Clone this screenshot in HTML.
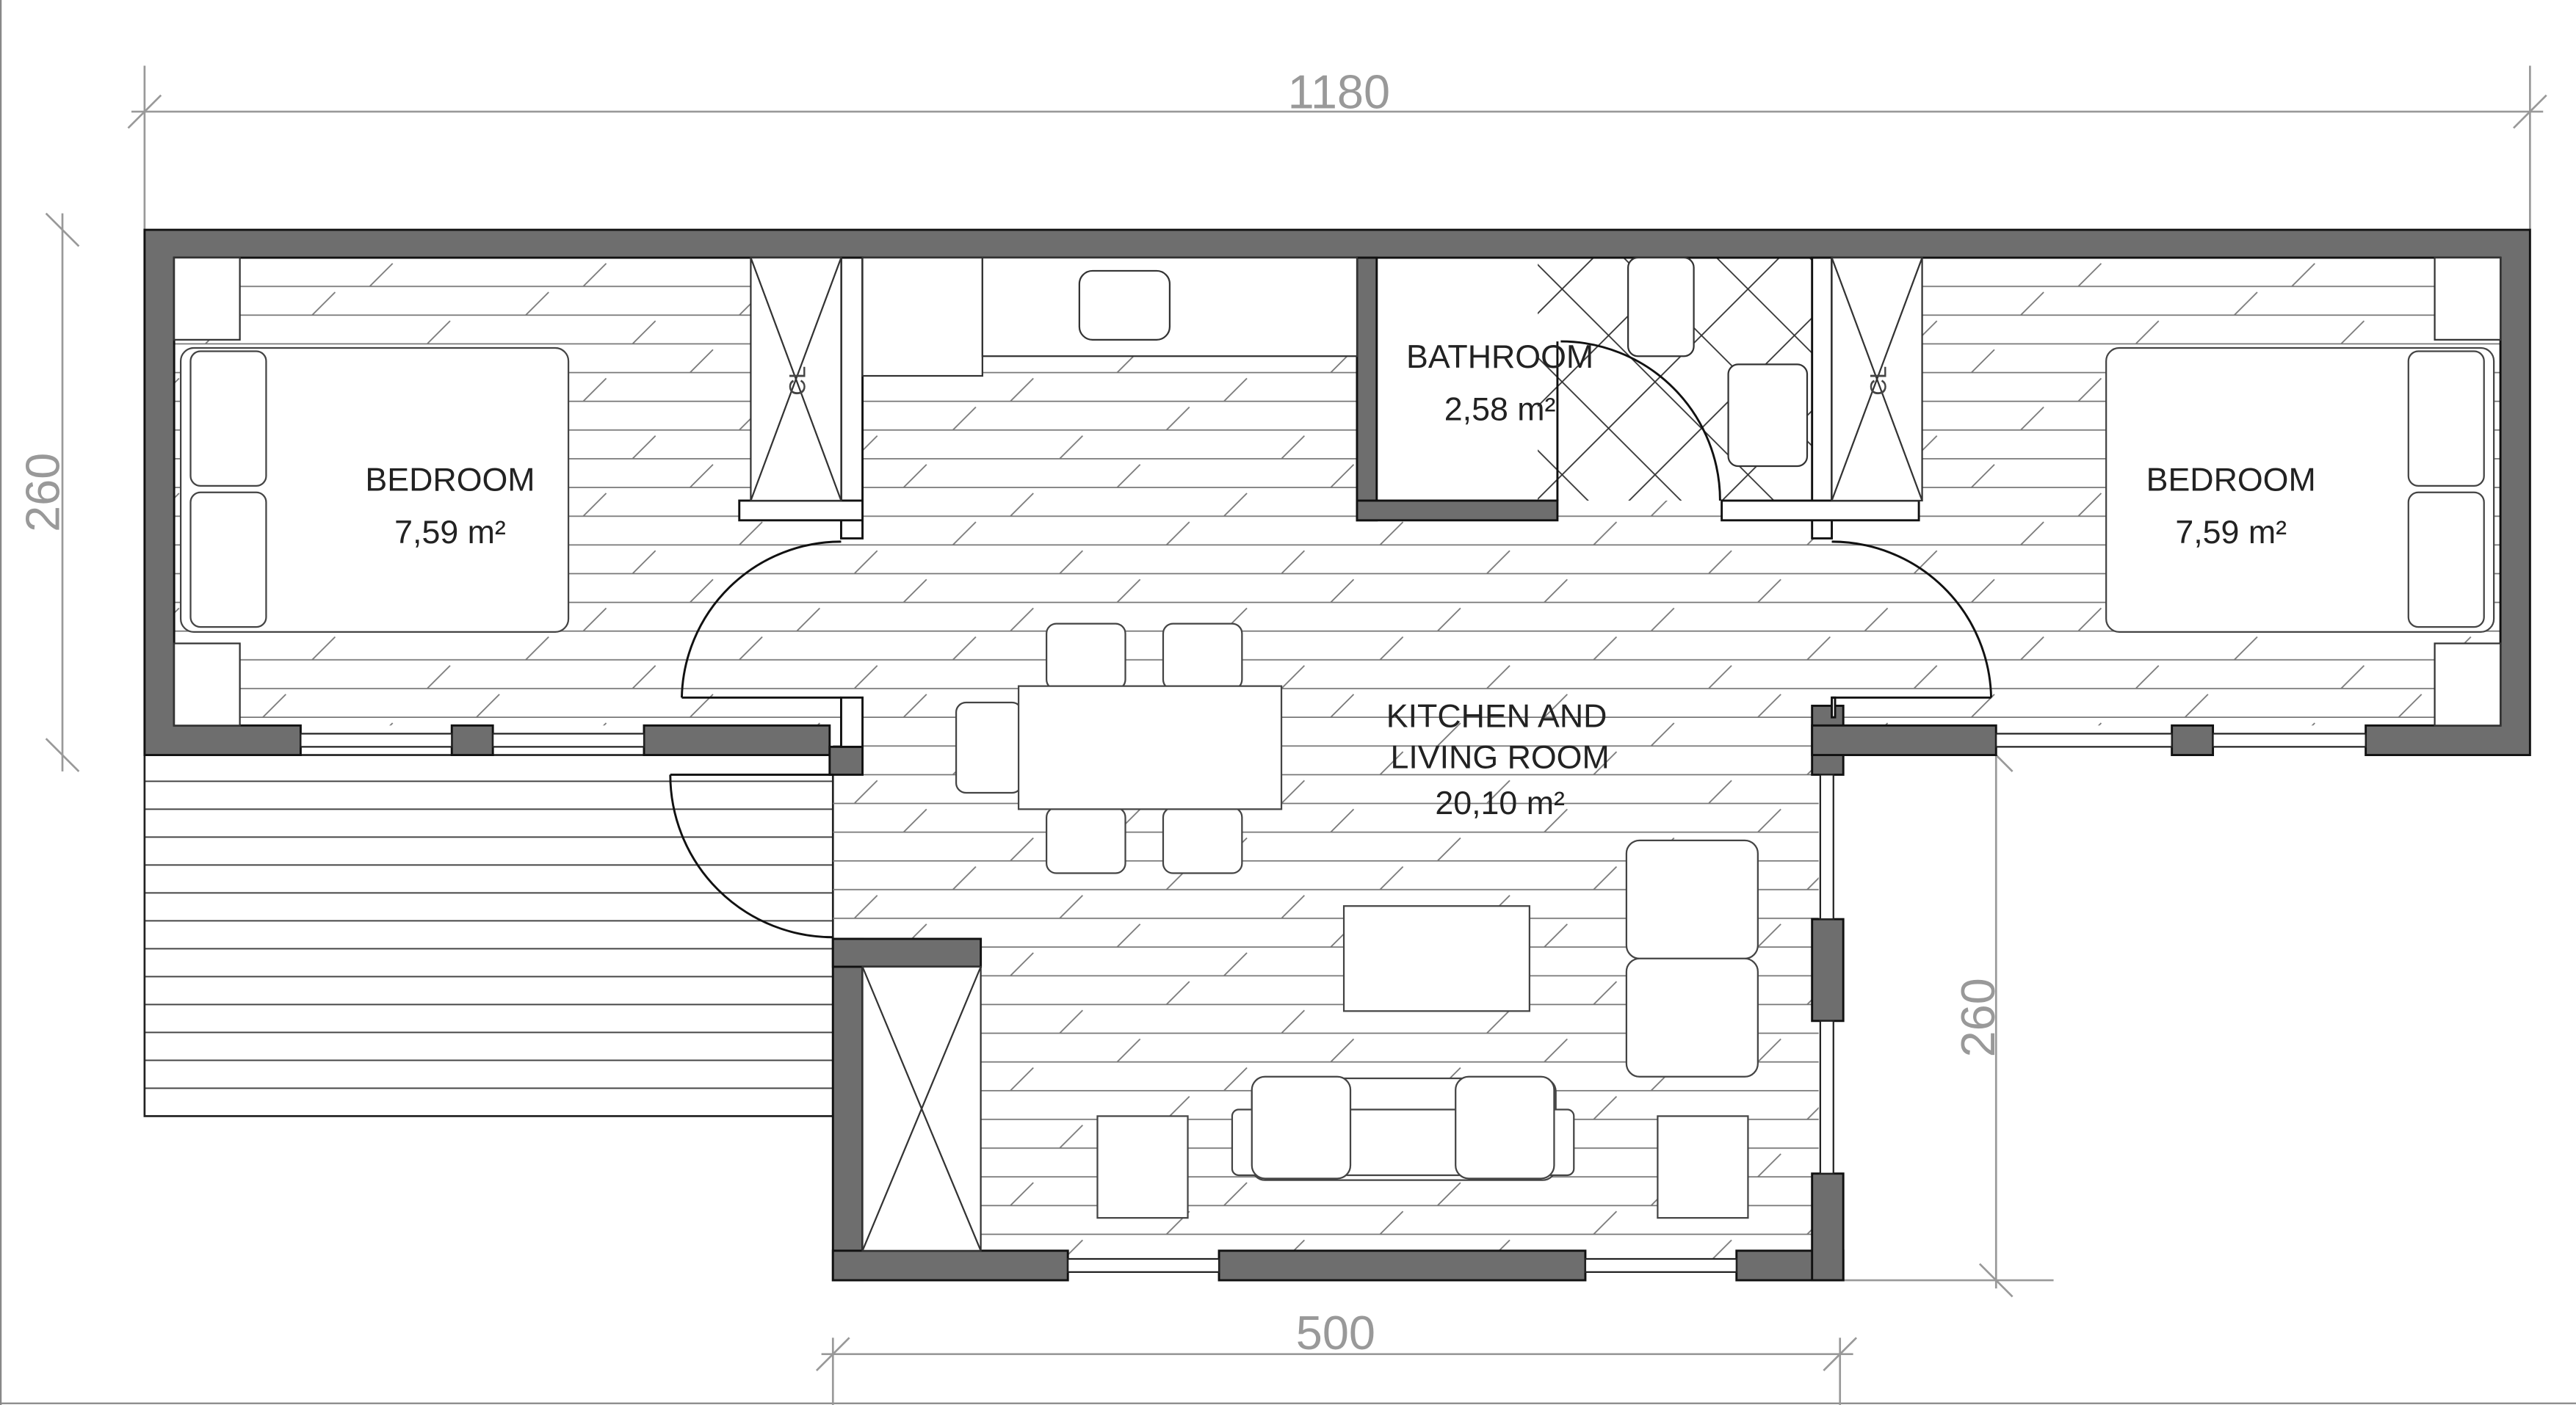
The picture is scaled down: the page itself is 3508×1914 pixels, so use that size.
<!DOCTYPE html>
<html><head><meta charset="utf-8"><style>
html,body{margin:0;padding:0;background:#fff;}
svg{display:block;}
text{font-family:"Liberation Sans",sans-serif;}
</style></head><body>
<svg width="3508" height="1914" viewBox="0 0 1568 856" preserveAspectRatio="none" xmlns="http://www.w3.org/2000/svg">
<defs>
<pattern id="fl" width="260" height="70" patternUnits="userSpaceOnUse" x="0" y="0">
<g stroke="#777" stroke-width="0.8">
<line x1="0" y1="17" x2="260" y2="17"/><line x1="0" y1="34.5" x2="260" y2="34.5"/>
<line x1="0" y1="52" x2="260" y2="52"/><line x1="0" y1="69.5" x2="260" y2="69.5"/>
<line x1="30" y1="17" x2="44" y2="3"/><line x1="160" y1="17" x2="174" y2="3"/>
<line x1="95" y1="34.5" x2="109" y2="20.5"/><line x1="225" y1="34.5" x2="239" y2="20.5"/>
<line x1="60" y1="52" x2="74" y2="38"/><line x1="190" y1="52" x2="204" y2="38"/>
<line x1="125" y1="69.5" x2="139" y2="55.5"/><line x1="0" y1="69.5" x2="14" y2="55.5"/>
</g>
</pattern>
<pattern id="tr" width="400" height="17" patternUnits="userSpaceOnUse" y="460">
<line x1="0" y1="16" x2="400" y2="16" stroke="#444" stroke-width="0.9"/>
</pattern>
<pattern id="tile" width="40" height="40" patternUnits="userSpaceOnUse" patternTransform="rotate(45 936 157)">
<rect width="40" height="40" fill="none" stroke="#333" stroke-width="0.8"/>
</pattern>
</defs>
<rect width="1568" height="856" fill="#fff"/>
<line x1="0.5" y1="0" x2="0.5" y2="856" stroke="#888"/>
<line x1="0" y1="855" x2="1568" y2="855" stroke="#888"/>
<g stroke="#999" stroke-width="1.2" fill="none">
<line x1="88" y1="40" x2="88" y2="140"/><line x1="1540" y1="40" x2="1540" y2="140"/>
<line x1="80" y1="68" x2="1548" y2="68"/>
<line x1="78" y1="78" x2="98" y2="58"/><line x1="1530" y1="78" x2="1550" y2="58"/>
<line x1="38" y1="130" x2="38" y2="470"/>
<line x1="28" y1="130" x2="48" y2="150"/><line x1="28" y1="450" x2="48" y2="470"/>
<line x1="1215" y1="450" x2="1215" y2="785"/>
<line x1="1205" y1="450" x2="1225" y2="470"/><line x1="1205" y1="770" x2="1225" y2="790"/>
<line x1="1122" y1="780" x2="1250" y2="780"/>
<line x1="507" y1="815" x2="507" y2="856"/><line x1="1120" y1="815" x2="1120" y2="856"/>
<line x1="500" y1="825" x2="1128" y2="825"/>
<line x1="497" y1="835" x2="517" y2="815"/><line x1="1110" y1="835" x2="1130" y2="815"/>
</g>
<g fill="#999" font-size="29" text-anchor="middle">
<text x="815" y="66">1180</text>
<text x="813" y="822">500</text>
<text transform="translate(36,300) rotate(-90)">260</text>
<text transform="translate(1214,620) rotate(-90)">260</text>
</g>
<rect x="88" y="460" width="419" height="220" fill="url(#tr)" stroke="#222" stroke-width="1.2"/>
<g>
<rect x="106" y="157" width="1416" height="285" fill="url(#fl)"/>
<rect x="507" y="442" width="600" height="325" fill="url(#fl)"/>
<rect x="838" y="157" width="265" height="148" fill="#fff"/>
<rect x="936" y="157" width="167" height="148" fill="url(#tile)"/>
</g>
<g fill="#6e6e6e" stroke="#111" stroke-width="1.3">
<path fill-rule="evenodd" d="M88 140H1540V460H1440V442H1522V157H106V442H183V460H88Z"/>
<rect x="275" y="442" width="25" height="18"/>
<rect x="392" y="442" width="113" height="18"/>
<rect x="505" y="455" width="20" height="17"/>
<rect x="1103" y="430" width="19" height="42"/>
<rect x="1103" y="442" width="112" height="18"/>
<rect x="1322" y="442" width="25" height="18"/>
<rect x="507" y="572" width="18" height="208"/>
<rect x="507" y="572" width="90" height="17"/>
<rect x="507" y="762" width="143" height="18"/>
<rect x="742" y="762" width="223" height="18"/>
<rect x="1057" y="762" width="65" height="18"/>
<rect x="1103" y="715" width="19" height="65"/>
<rect x="1103" y="560" width="19" height="62"/>
<rect x="826" y="157" width="12" height="160"/>
<rect x="826" y="305" width="122" height="12"/>
</g>
<g fill="#fff" stroke="#111" stroke-width="1.3">
<rect x="512" y="157" width="13" height="171"/>
<rect x="450" y="305" width="75" height="12"/>
<rect x="1103" y="157" width="12" height="171"/>
<rect x="1048" y="305" width="120" height="12"/>
<rect x="512" y="425" width="13" height="30"/>
<rect x="1115" y="425" width="2" height="12"/>
</g>
<g stroke="#222" stroke-width="1" fill="#fff">
<rect x="183" y="447" width="92" height="8"/><rect x="300" y="447" width="92" height="8"/>
<rect x="1215" y="447" width="107" height="8"/><rect x="1347" y="447" width="93" height="8"/>
<rect x="650" y="767" width="92" height="8"/><rect x="965" y="767" width="92" height="8"/>
<rect x="1108" y="472" width="8" height="88"/><rect x="1108" y="622" width="8" height="93"/>
</g>
<g fill="none" stroke="#111" stroke-width="1.3">
<path d="M512 330 A97 97 0 0 0 415 425"/><line x1="415" y1="425" x2="512" y2="425"/>
<path d="M1115 330 A97 97 0 0 1 1212 425"/><line x1="1115" y1="425" x2="1212" y2="425"/>
<path d="M408 472 A99 99 0 0 0 507 571"/><line x1="408" y1="472" x2="507" y2="472"/>
<path d="M950 208 A97 97 0 0 1 1047 305"/><line x1="948" y1="208" x2="948" y2="305"/>
</g>
<g fill="#fff" stroke="#333" stroke-width="1">
<rect x="457" y="157" width="55" height="148"/>
<line x1="457" y1="157" x2="512" y2="305"/><line x1="512" y1="157" x2="457" y2="305"/>
<rect x="1115" y="157" width="55" height="148"/>
<line x1="1115" y1="157" x2="1170" y2="305"/><line x1="1170" y1="157" x2="1115" y2="305"/>
<rect x="525" y="589" width="72" height="173"/>
<line x1="525" y1="589" x2="597" y2="762"/><line x1="597" y1="589" x2="525" y2="762"/>
<rect x="525" y="157" width="73" height="72"/>
<rect x="598" y="157" width="228" height="60"/>
<rect x="657" y="165" width="55" height="42" rx="8"/>
<rect x="991" y="157" width="40" height="60" rx="6"/>
<rect x="1052" y="222" width="48" height="62" rx="6"/>
<rect x="106" y="157" width="40" height="50"/><rect x="106" y="392" width="40" height="50"/>
<rect x="1482" y="157" width="40" height="50"/><rect x="1482" y="392" width="40" height="50"/>
</g>
<g font-size="14" fill="#444" text-anchor="middle">
<text transform="translate(490,232) rotate(-90)">CL</text>
<text transform="translate(1148,232) rotate(-90)">CL</text>
</g>
<g fill="#fff" stroke="#444" stroke-width="1">
<rect x="110" y="212" width="236" height="173" rx="8"/>
<rect x="116" y="214" width="46" height="82" rx="6"/><rect x="116" y="300" width="46" height="82" rx="6"/>
<rect x="1282" y="212" width="236" height="173" rx="8"/>
<rect x="1466" y="214" width="46" height="82" rx="6"/><rect x="1466" y="300" width="46" height="82" rx="6"/>
</g>
<g fill="#fff" stroke="#444" stroke-width="1">
<rect x="637" y="380" width="48" height="40" rx="6"/><rect x="708" y="380" width="48" height="40" rx="6"/>
<rect x="637" y="492" width="48" height="40" rx="6"/><rect x="708" y="492" width="48" height="40" rx="6"/>
<rect x="582" y="428" width="40" height="55" rx="6"/>
<rect x="620" y="418" width="160" height="75"/>
<rect x="818" y="552" width="113" height="64"/>
<rect x="990" y="512" width="80" height="72" rx="8"/><rect x="990" y="584" width="80" height="72" rx="8"/>
<rect x="762" y="657" width="185" height="62" rx="8"/>
<rect x="750" y="676" width="208" height="40" rx="4"/>
<rect x="762" y="656" width="60" height="62" rx="8"/><rect x="886" y="656" width="60" height="62" rx="8"/>
<rect x="668" y="680" width="55" height="62"/><rect x="1009" y="680" width="55" height="62"/>
</g>
<g font-size="20" fill="#222" text-anchor="middle">
<text x="274" y="299">BEDROOM</text><text x="274" y="331">7,59 m²</text>
<text x="1358" y="299">BEDROOM</text><text x="1358" y="331">7,59 m²</text>
<text x="913" y="224">BATHROOM</text><text x="913" y="256">2,58 m²</text>
<text x="911" y="443">KITCHEN AND</text><text x="913" y="468">LIVING ROOM</text><text x="913" y="496">20,10 m²</text>
</g>
</svg>
</body></html>
